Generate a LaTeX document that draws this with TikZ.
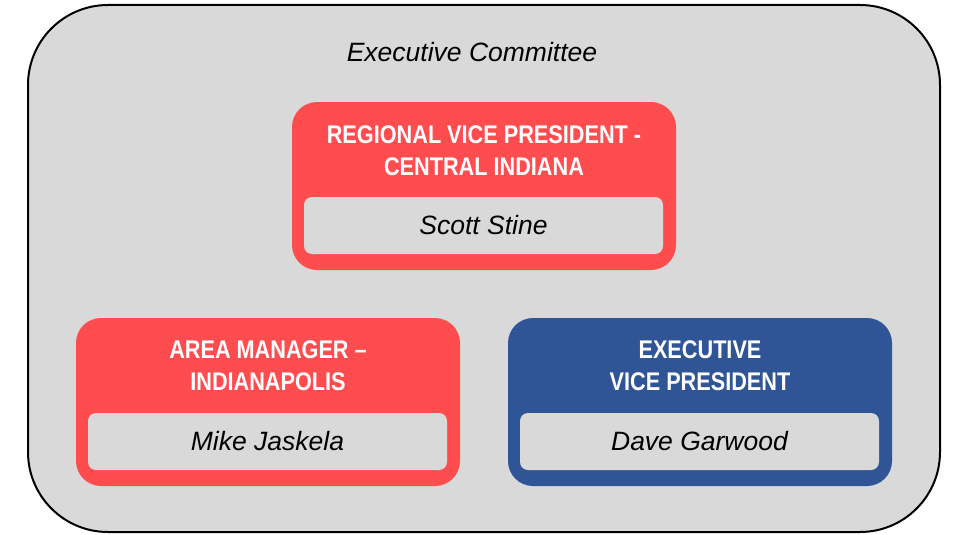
\documentclass[tikz,border=0pt]{standalone}
\usepackage{fontspec}
\setmainfont{Liberation Sans}
\newfontfamily\titlefont[FakeStretch=0.85]{Liberation Sans}
\definecolor{cardred}{HTML}{FF4D4F}
\definecolor{cardblue}{HTML}{2F5597}
\definecolor{panelgray}{HTML}{D9D9D9}
\tikzset{
  card/.style={rounded corners=25pt, minimum width=384pt, minimum height=168pt, inner sep=0pt},
  namebox/.style={fill=panelgray, rounded corners=8pt, minimum width=359pt, minimum height=57pt,
    inner sep=0pt, font=\fontsize{26.5}{30}\selectfont\itshape},
  cardtitle/.style={text=white, align=center, inner sep=0pt, font=\titlefont\bfseries\fontsize{25.5}{32}\selectfont}
}
\begin{document}
\begin{tikzpicture}[x=1pt,y=-1pt]
  \useasboundingbox (0,0) rectangle (953,535);
  % committee frame
  \node[draw=black, line width=2pt, fill=panelgray, rounded corners=80pt,
        minimum width=912pt, minimum height=527pt] (comm) at (484,268.5) {};
  \node[font=\fontsize{26.5}{30}\selectfont\itshape] (commlabel) at (472,52) {Executive Committee};

  % regional vice president
  \node[card, fill=cardred] (rvp) at (484,186) {};
  \node[cardtitle] (rvptitle) at (484,151) {REGIONAL VICE PRESIDENT -\\CENTRAL INDIANA};
  \node[namebox] (rvpname) at (483.5,225.5) {Scott Stine};

  % area manager
  \node[card, fill=cardred] (am) at (268,402) {};
  \node[cardtitle] (amtitle) at (268,366) {AREA MANAGER –\\INDIANAPOLIS};
  \node[namebox] (amname) at (267.5,441.5) {Mike Jaskela};

  % executive vice president
  \node[card, fill=cardblue] (evp) at (700,402) {};
  \node[cardtitle] (evptitle) at (700,366) {EXECUTIVE\\VICE PRESIDENT};
  \node[namebox] (evpname) at (699.5,441.5) {Dave Garwood};
\end{tikzpicture}
\end{document}
